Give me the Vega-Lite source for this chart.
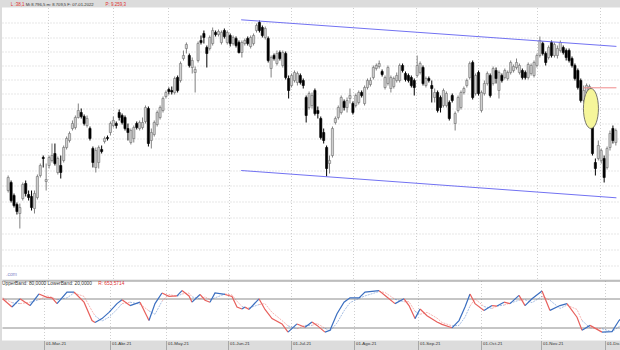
{
"$schema":"https://vega.github.io/schema/vega-lite/v6.json",
"padding":{"top":1.5,"left":0,"right":0,"bottom":1},
"spacing":1,
"config":{"background":"#dcdcdc","view":{"fill":"white","stroke":null},"font":"Liberation Sans"},
"datasets":{
"candles":[
{"i":0,"o":8100,"h":8250,"l":8080,"c":8230},{"i":1,"o":8180,"h":8200,"l":7980,"c":8000},{"i":2,"o":8050,"h":8070,"l":7930,"c":7950},{"i":3,"o":7960,"h":7980,"l":7860,"c":7890},{"i":4,"o":7870,"h":7970,"l":7720,"c":7930},{"i":5,"o":8020,"h":8180,"l":8000,"c":8160},{"i":6,"o":8170,"h":8200,"l":8040,"c":8070},{"i":7,"o":8060,"h":8100,"l":8000,"c":8030},{"i":8,"o":8040,"h":8100,"l":7900,"c":7930},{"i":9,"o":7920,"h":8100,"l":7870,"c":8070},
{"i":10,"o":8030,"h":8260,"l":8010,"c":8240},{"i":11,"o":8250,"h":8370,"l":8230,"c":8350},{"i":12,"o":8430,"h":8450,"l":8330,"c":8420},{"i":13,"o":8190,"h":8370,"l":8100,"c":8210},{"i":14,"o":8350,"h":8450,"l":8320,"c":8430},{"i":15,"o":8400,"h":8570,"l":8380,"c":8450},{"i":16,"o":8470,"h":8570,"l":8350,"c":8370},{"i":17,"o":8280,"h":8440,"l":8260,"c":8420},{"i":18,"o":8350,"h":8450,"l":8220,"c":8280},{"i":19,"o":8400,"h":8550,"l":8380,"c":8530},
{"i":20,"o":8530,"h":8640,"l":8510,"c":8620},{"i":21,"o":8600,"h":8690,"l":8580,"c":8670},{"i":22,"o":8720,"h":8800,"l":8700,"c":8770},{"i":23,"o":8730,"h":8850,"l":8710,"c":8830},{"i":24,"o":8830,"h":8970,"l":8820,"c":8900},{"i":25,"o":8880,"h":8920,"l":8820,"c":8840},{"i":26,"o":8840,"h":8860,"l":8750,"c":8770},{"i":27,"o":8750,"h":8850,"l":8730,"c":8820},{"i":28,"o":8720,"h":8740,"l":8600,"c":8620},{"i":29,"o":8520,"h":8540,"l":8330,"c":8380},
{"i":30,"o":8330,"h":8530,"l":8280,"c":8500},{"i":31,"o":8380,"h":8550,"l":8320,"c":8530},{"i":32,"o":8510,"h":8550,"l":8470,"c":8490},{"i":33,"o":8590,"h":8640,"l":8570,"c":8620},{"i":34,"o":8630,"h":8650,"l":8600,"c":8620},{"i":35,"o":8680,"h":8790,"l":8650,"c":8770},{"i":36,"o":8750,"h":8840,"l":8730,"c":8800},{"i":37,"o":8770,"h":8790,"l":8720,"c":8750},{"i":38,"o":8880,"h":8910,"l":8800,"c":8830},{"i":39,"o":8850,"h":8870,"l":8760,"c":8780},
{"i":40,"o":8830,"h":8850,"l":8700,"c":8720},{"i":41,"o":8720,"h":8770,"l":8600,"c":8680},{"i":42,"o":8580,"h":8720,"l":8560,"c":8700},{"i":43,"o":8620,"h":8750,"l":8580,"c":8730},{"i":44,"o":8770,"h":8790,"l":8710,"c":8730},{"i":45,"o":8720,"h":8800,"l":8700,"c":8780},{"i":46,"o":8730,"h":8830,"l":8710,"c":8780},{"i":47,"o":8790,"h":8950,"l":8770,"c":8930},{"i":48,"o":8920,"h":8940,"l":8540,"c":8570},{"i":49,"o":8600,"h":8720,"l":8520,"c":8680},
{"i":50,"o":8660,"h":8800,"l":8640,"c":8780},{"i":51,"o":8760,"h":8900,"l":8740,"c":8880},{"i":52,"o":8830,"h":8950,"l":8810,"c":8930},{"i":53,"o":8900,"h":9040,"l":8880,"c":9020},{"i":54,"o":9040,"h":9100,"l":9020,"c":9080},{"i":55,"o":9110,"h":9130,"l":9060,"c":9090},{"i":56,"o":9100,"h":9140,"l":9060,"c":9085},{"i":57,"o":9080,"h":9240,"l":9060,"c":9220},{"i":58,"o":9230,"h":9250,"l":9080,"c":9100},{"i":59,"o":9200,"h":9390,"l":9180,"c":9370},
{"i":60,"o":9420,"h":9500,"l":9400,"c":9450},{"i":61,"o":9520,"h":9580,"l":9470,"c":9560},{"i":62,"o":9450,"h":9470,"l":9330,"c":9350},{"i":63,"o":9330,"h":9430,"l":9270,"c":9400},{"i":64,"o":9280,"h":9340,"l":9080,"c":9310},{"i":65,"o":9400,"h":9590,"l":9380,"c":9570},{"i":66,"o":9600,"h":9650,"l":9560,"c":9580},{"i":67,"o":9670,"h":9700,"l":9570,"c":9630},{"i":68,"o":9530,"h":9550,"l":9330,"c":9470},{"i":69,"o":9520,"h":9650,"l":9500,"c":9630},
{"i":70,"o":9570,"h":9730,"l":9550,"c":9700},{"i":71,"o":9680,"h":9700,"l":9640,"c":9660},{"i":72,"o":9660,"h":9710,"l":9640,"c":9690},{"i":73,"o":9580,"h":9700,"l":9560,"c":9680},{"i":74,"o":9700,"h":9720,"l":9620,"c":9640},{"i":75,"o":9580,"h":9700,"l":9560,"c":9680},{"i":76,"o":9650,"h":9670,"l":9540,"c":9570},{"i":77,"o":9570,"h":9650,"l":9550,"c":9630},{"i":78,"o":9620,"h":9640,"l":9530,"c":9550},{"i":79,"o":9580,"h":9600,"l":9470,"c":9480},
{"i":80,"o":9480,"h":9600,"l":9430,"c":9580},{"i":81,"o":9570,"h":9620,"l":9550,"c":9600},{"i":82,"o":9620,"h":9640,"l":9550,"c":9570},{"i":83,"o":9540,"h":9650,"l":9520,"c":9630},{"i":84,"o":9570,"h":9670,"l":9550,"c":9650},{"i":85,"o":9700,"h":9770,"l":9680,"c":9750},{"i":86,"o":9780,"h":9800,"l":9680,"c":9700},{"i":87,"o":9730,"h":9750,"l":9630,"c":9650},{"i":88,"o":9630,"h":9740,"l":9610,"c":9720},{"i":89,"o":9620,"h":9640,"l":9380,"c":9400},
{"i":90,"o":9320,"h":9450,"l":9230,"c":9430},{"i":91,"o":9450,"h":9470,"l":9400,"c":9420},{"i":92,"o":9370,"h":9500,"l":9350,"c":9470},{"i":93,"o":9480,"h":9500,"l":9400,"c":9420},{"i":94,"o":9350,"h":9500,"l":9330,"c":9480},{"i":95,"o":9470,"h":9490,"l":9210,"c":9230},{"i":96,"o":9220,"h":9250,"l":9020,"c":9100},{"i":97,"o":9150,"h":9270,"l":9130,"c":9250},{"i":98,"o":9200,"h":9300,"l":9180,"c":9280},{"i":99,"o":9180,"h":9290,"l":9150,"c":9270},
{"i":100,"o":9250,"h":9270,"l":9160,"c":9180},{"i":101,"o":9200,"h":9220,"l":9120,"c":9150},{"i":102,"o":9030,"h":9050,"l":8780,"c":8850},{"i":103,"o":8930,"h":9090,"l":8910,"c":9070},{"i":104,"o":8950,"h":9080,"l":8920,"c":9050},{"i":105,"o":9100,"h":9120,"l":8850,"c":8870},{"i":106,"o":8900,"h":8940,"l":8820,"c":8870},{"i":107,"o":8820,"h":8840,"l":8610,"c":8630},{"i":108,"o":8680,"h":8720,"l":8570,"c":8600},{"i":109,"o":8530,"h":8550,"l":8240,"c":8320},
{"i":110,"o":8370,"h":8450,"l":8270,"c":8400},{"i":111,"o":8450,"h":8740,"l":8430,"c":8720},{"i":112,"o":8780,"h":8840,"l":8760,"c":8820},{"i":113,"o":8830,"h":8950,"l":8810,"c":8930},{"i":114,"o":8880,"h":9050,"l":8860,"c":9030},{"i":115,"o":8990,"h":9010,"l":8900,"c":8930},{"i":116,"o":8930,"h":9030,"l":8880,"c":9000},{"i":117,"o":9020,"h":9120,"l":8970,"c":9050},{"i":118,"o":8970,"h":8990,"l":8860,"c":8880},{"i":119,"o":8950,"h":9070,"l":8930,"c":9050},
{"i":120,"o":8980,"h":9100,"l":8960,"c":9080},{"i":121,"o":9080,"h":9100,"l":9030,"c":9050},{"i":122,"o":8970,"h":9150,"l":8950,"c":9130},{"i":123,"o":9130,"h":9220,"l":9110,"c":9200},{"i":124,"o":9160,"h":9230,"l":9140,"c":9200},{"i":125,"o":9230,"h":9350,"l":9210,"c":9330},{"i":126,"o":9320,"h":9370,"l":9300,"c":9350},{"i":127,"o":9340,"h":9400,"l":9320,"c":9370},{"i":128,"o":9290,"h":9310,"l":9240,"c":9260},{"i":129,"o":9130,"h":9250,"l":9110,"c":9230},
{"i":130,"o":9170,"h":9350,"l":9150,"c":9330},{"i":131,"o":9120,"h":9250,"l":9080,"c":9230},{"i":132,"o":9140,"h":9240,"l":9120,"c":9220},{"i":133,"o":9200,"h":9280,"l":9180,"c":9250},{"i":134,"o":9200,"h":9370,"l":9180,"c":9350},{"i":135,"o":9350,"h":9370,"l":9280,"c":9300},{"i":136,"o":9270,"h":9290,"l":9190,"c":9210},{"i":137,"o":9250,"h":9270,"l":9180,"c":9200},{"i":138,"o":9230,"h":9250,"l":9130,"c":9150},{"i":139,"o":9200,"h":9220,"l":9050,"c":9130},
{"i":140,"o":9250,"h":9450,"l":9230,"c":9350},{"i":141,"o":9280,"h":9390,"l":9260,"c":9370},{"i":142,"o":9330,"h":9350,"l":9150,"c":9170},{"i":143,"o":9150,"h":9240,"l":9130,"c":9220},{"i":144,"o":9220,"h":9240,"l":9180,"c":9200},{"i":145,"o":9150,"h":9200,"l":8980,"c":9120},{"i":146,"o":9030,"h":9120,"l":8980,"c":9080},{"i":147,"o":9080,"h":9100,"l":8880,"c":8900},{"i":148,"o":9030,"h":9050,"l":8880,"c":8930},{"i":149,"o":8950,"h":9120,"l":8930,"c":9100},
{"i":150,"o":8950,"h":9090,"l":8930,"c":9070},{"i":151,"o":8980,"h":9000,"l":8800,"c":8820},{"i":152,"o":9050,"h":9070,"l":8980,"c":9000},{"i":153,"o":8770,"h":8890,"l":8700,"c":8870},{"i":154,"o":8900,"h":9050,"l":8880,"c":9030},{"i":155,"o":8930,"h":9100,"l":8910,"c":9080},{"i":156,"o":9080,"h":9140,"l":9060,"c":9120},{"i":157,"o":9150,"h":9220,"l":9130,"c":9200},{"i":158,"o":9230,"h":9390,"l":9210,"c":9370},{"i":159,"o":9380,"h":9400,"l":9010,"c":9030},
{"i":160,"o":9070,"h":9270,"l":9050,"c":9250},{"i":161,"o":9280,"h":9300,"l":9050,"c":9070},{"i":162,"o":8900,"h":9100,"l":8880,"c":9080},{"i":163,"o":9070,"h":9200,"l":9050,"c":9170},{"i":164,"o":9170,"h":9290,"l":9150,"c":9270},{"i":165,"o":9250,"h":9270,"l":9030,"c":9050},{"i":166,"o":9170,"h":9340,"l":9150,"c":9320},{"i":167,"o":9300,"h":9330,"l":9170,"c":9220},{"i":168,"o":9100,"h":9300,"l":9020,"c":9280},{"i":169,"o":9250,"h":9270,"l":9180,"c":9200},
{"i":170,"o":9230,"h":9320,"l":9210,"c":9300},{"i":171,"o":9220,"h":9300,"l":9200,"c":9280},{"i":172,"o":9280,"h":9400,"l":9260,"c":9380},{"i":173,"o":9300,"h":9360,"l":9280,"c":9340},{"i":174,"o":9330,"h":9420,"l":9310,"c":9380},{"i":175,"o":9280,"h":9370,"l":9260,"c":9350},{"i":176,"o":9300,"h":9320,"l":9210,"c":9230},{"i":177,"o":9280,"h":9300,"l":9210,"c":9230},{"i":178,"o":9230,"h":9380,"l":9210,"c":9360},{"i":179,"o":9270,"h":9370,"l":9250,"c":9350},
{"i":180,"o":9250,"h":9400,"l":9230,"c":9380},{"i":181,"o":9350,"h":9470,"l":9330,"c":9450},{"i":182,"o":9450,"h":9640,"l":9430,"c":9600},{"i":183,"o":9570,"h":9590,"l":9450,"c":9470},{"i":184,"o":9470,"h":9490,"l":9350,"c":9380},{"i":185,"o":9430,"h":9550,"l":9410,"c":9530},{"i":186,"o":9580,"h":9600,"l":9430,"c":9450},{"i":187,"o":9450,"h":9580,"l":9430,"c":9560},{"i":188,"o":9450,"h":9550,"l":9420,"c":9520},{"i":189,"o":9500,"h":9600,"l":9480,"c":9580},
{"i":190,"o":9530,"h":9550,"l":9460,"c":9480},{"i":191,"o":9500,"h":9520,"l":9400,"c":9430},{"i":192,"o":9500,"h":9520,"l":9380,"c":9400},{"i":193,"o":9420,"h":9440,"l":9330,"c":9350},{"i":194,"o":9350,"h":9370,"l":9200,"c":9220},{"i":195,"o":9300,"h":9320,"l":9110,"c":9130},{"i":196,"o":9200,"h":9220,"l":8980,"c":9000},{"i":197,"o":9000,"h":9150,"l":8980,"c":9100},{"i":198,"o":9080,"h":9170,"l":9060,"c":9150},{"i":199,"o":9080,"h":9160,"l":9000,"c":9140},
{"i":200,"o":8900,"h":9050,"l":8450,"c":8470},{"i":201,"o":8380,"h":8420,"l":8250,"c":8320},{"i":202,"o":8420,"h":8600,"l":8400,"c":8550},{"i":203,"o":8400,"h":8520,"l":8370,"c":8500},{"i":204,"o":8420,"h":8450,"l":8180,"c":8230},{"i":205,"o":8330,"h":8540,"l":8310,"c":8520},{"i":206,"o":8530,"h":8700,"l":8500,"c":8670},{"i":207,"o":8720,"h":8750,"l":8570,"c":8600},{"i":208,"o":8580,"h":8720,"l":8550,"c":8700}
],
"osc":[
{"i":-0.2,"k":80,"d":82,"r":1},{"i":2.97,"k":63,"d":72,"r":1},
{"i":2.97,"k":63,"d":72,"r":2},{"i":5.66,"k":80,"d":70,"r":2},
{"i":5.66,"k":80,"d":70,"r":3},{"i":9.03,"k":66,"d":73,"r":3},
{"i":9.03,"k":66,"d":73,"r":4},{"i":12.06,"k":90,"d":78,"r":4},
{"i":12.06,"k":90,"d":78,"r":5},{"i":14.76,"k":83,"d":86,"r":5},{"i":16.44,"k":82,"d":83,"r":5},{"i":18.12,"k":70,"d":78,"r":5},
{"i":18.12,"k":70,"d":78,"r":6},{"i":21.49,"k":94,"d":82,"r":6},{"i":23.85,"k":94,"d":92,"r":6},
{"i":23.85,"k":94,"d":92,"r":7},{"i":27.22,"k":73,"d":85,"r":7},{"i":29.91,"k":35,"d":55,"r":7},{"i":30.92,"k":31,"d":45,"r":7},
{"i":30.92,"k":31,"d":45,"r":8},{"i":33.28,"k":39,"d":34,"r":8},{"i":35.63,"k":52,"d":42,"r":8},{"i":38.33,"k":70,"d":58,"r":8},{"i":40.01,"k":78,"d":70,"r":8},
{"i":40.01,"k":78,"d":70,"r":9},{"i":42.71,"k":66,"d":73,"r":9},
{"i":42.71,"k":66,"d":73,"r":10},{"i":46.08,"k":73,"d":69,"r":10},
{"i":46.08,"k":73,"d":69,"r":11},{"i":49.1,"k":35,"d":55,"r":11},
{"i":49.1,"k":35,"d":55,"r":12},{"i":51.13,"k":70,"d":48,"r":12},{"i":53.48,"k":92,"d":75,"r":12},
{"i":53.48,"k":92,"d":75,"r":13},{"i":55.84,"k":85,"d":89,"r":13},{"i":58.54,"k":86,"d":85,"r":13},
{"i":58.54,"k":86,"d":85,"r":14},{"i":60.22,"k":97,"d":90,"r":14},
{"i":60.22,"k":97,"d":90,"r":15},{"i":62.58,"k":86,"d":92,"r":15},{"i":63.59,"k":73,"d":84,"r":15},
{"i":63.59,"k":73,"d":84,"r":16},{"i":66.28,"k":89,"d":80,"r":16},
{"i":66.28,"k":89,"d":80,"r":17},{"i":67.97,"k":77,"d":84,"r":17},{"i":69.65,"k":73,"d":78,"r":17},
{"i":69.65,"k":73,"d":78,"r":18},{"i":71.33,"k":92,"d":82,"r":18},{"i":74.7,"k":89,"d":90,"r":18},
{"i":74.7,"k":89,"d":90,"r":19},{"i":77.06,"k":85,"d":88,"r":19},{"i":78.74,"k":63,"d":75,"r":19},{"i":80.43,"k":59,"d":64,"r":19},
{"i":80.43,"k":59,"d":64,"r":20},{"i":81.44,"k":63,"d":61,"r":20},
{"i":81.44,"k":63,"d":61,"r":21},{"i":82.79,"k":58,"d":61,"r":21},
{"i":82.79,"k":58,"d":61,"r":22},{"i":86.15,"k":80,"d":68,"r":22},
{"i":86.15,"k":80,"d":68,"r":23},{"i":88.17,"k":58,"d":70,"r":23},{"i":90.53,"k":39,"d":52,"r":23},{"i":93.9,"k":28,"d":35,"r":23},{"i":95.92,"k":11,"d":24,"r":23},
{"i":95.92,"k":11,"d":24,"r":24},{"i":98.95,"k":28,"d":18,"r":24},
{"i":98.95,"k":28,"d":18,"r":25},{"i":101.64,"k":21,"d":25,"r":25},
{"i":101.64,"k":21,"d":25,"r":26},{"i":104,"k":32,"d":25,"r":26},
{"i":104,"k":32,"d":25,"r":27},{"i":105.69,"k":25,"d":29,"r":27},{"i":108.38,"k":11,"d":19,"r":27},
{"i":108.38,"k":11,"d":19,"r":28},{"i":110.06,"k":15,"d":13,"r":28},{"i":112.42,"k":49,"d":30,"r":28},{"i":114.78,"k":73,"d":55,"r":28},{"i":116.8,"k":82,"d":72,"r":28},{"i":119.83,"k":82,"d":81,"r":28},{"i":121.85,"k":94,"d":86,"r":28},{"i":126.57,"k":97,"d":95,"r":28},
{"i":126.57,"k":97,"d":95,"r":29},{"i":128.6,"k":87,"d":93,"r":29},{"i":131.96,"k":70,"d":79,"r":29},
{"i":131.96,"k":70,"d":79,"r":30},{"i":134.99,"k":80,"d":74,"r":30},
{"i":134.99,"k":80,"d":74,"r":31},{"i":136.67,"k":66,"d":74,"r":31},{"i":138.7,"k":39,"d":54,"r":31},
{"i":138.7,"k":39,"d":54,"r":32},{"i":140.39,"k":59,"d":48,"r":32},
{"i":140.39,"k":59,"d":48,"r":33},{"i":142.73,"k":45,"d":52,"r":33},{"i":146.1,"k":32,"d":40,"r":33},{"i":147.78,"k":27,"d":31,"r":33},{"i":151.15,"k":20,"d":24,"r":33},
{"i":151.15,"k":20,"d":24,"r":34},{"i":153.51,"k":35,"d":25,"r":34},{"i":155.53,"k":63,"d":42,"r":34},{"i":157.21,"k":90,"d":65,"r":34},
{"i":157.21,"k":90,"d":65,"r":35},{"i":158.9,"k":70,"d":80,"r":35},{"i":161.93,"k":56,"d":64,"r":35},
{"i":161.93,"k":56,"d":64,"r":36},{"i":164.62,"k":66,"d":60,"r":36},
{"i":164.62,"k":66,"d":60,"r":37},{"i":166.31,"k":65,"d":65,"r":37},
{"i":166.31,"k":65,"d":65,"r":38},{"i":168.66,"k":73,"d":67,"r":38},
{"i":168.66,"k":73,"d":67,"r":39},{"i":170.68,"k":70,"d":71,"r":39},
{"i":170.68,"k":70,"d":71,"r":40},{"i":173.72,"k":87,"d":77,"r":40},
{"i":173.72,"k":87,"d":77,"r":41},{"i":175.74,"k":66,"d":78,"r":41},
{"i":175.74,"k":66,"d":78,"r":42},{"i":178.09,"k":80,"d":72,"r":42},{"i":181.46,"k":96,"d":85,"r":42},
{"i":181.46,"k":96,"d":85,"r":43},{"i":184.15,"k":56,"d":77,"r":43},
{"i":184.15,"k":56,"d":77,"r":44},{"i":187.52,"k":66,"d":60,"r":44},{"i":189.88,"k":70,"d":67,"r":44},
{"i":189.88,"k":70,"d":67,"r":45},{"i":193.25,"k":42,"d":58,"r":45},{"i":194.93,"k":15,"d":35,"r":45},
{"i":194.93,"k":15,"d":35,"r":46},{"i":197.63,"k":25,"d":20,"r":46},
{"i":197.63,"k":25,"d":20,"r":47},{"i":201.67,"k":11,"d":18,"r":47},
{"i":201.67,"k":11,"d":18,"r":48},{"i":205.04,"k":12,"d":12,"r":48},{"i":207.39,"k":35,"d":22,"r":48},{"i":208.2,"k":40,"d":30,"r":48}
],
"chan":[{"i":79.75,"v":9807,"g":"u"},{"i":208.2,"v":9541,"g":"u"},{"i":79.75,"v":8300,"g":"l"},{"i":208.2,"v":8027,"g":"l"}],
"hl":[{"i":196.95,"v":9127},{"i":208.2,"v":9127}],
"ell":[{"i":199.48,"v":8920}],
"hdr1":[{"t":"L :38,1"}],
"hdr2":[{"t":"Mi 8.796,5 m: 8.709,5 F: 07-01-2022"}],
"hdr3":[{"t":"P: 9.259,3"}],
"wm":[{"t":".com"}],
"ob1":[{"t":"UpperBand: 80,0000  LowerBand: 20,0000"}],
"ob2":[{"t":"R: 653,5714"}]
},
"vconcat":[
{
"width":620,"height":272,
"layer":[
{"data":{"name":"candles"},"mark":{"type":"rule","strokeWidth":1},
 "encoding":{"x":{"field":"i","type":"quantitative","scale":{"domain":[-0.4,208.4],"nice":false},
   "axis":{"values":[13.75,35.97,54.83,75.71,96.93,118.15,139.7,160.92,181.13,202.68],"grid":true,"gridColor":"#cfcfcf","gridDash":[1,2],"labels":false,"ticks":false,"domain":false,"title":null}},
  "y":{"field":"h","type":"quantitative","scale":{"domain":[7210,9930],"nice":false,"zero":false},
   "axis":{"values":[9777,9633,9492,9350,9208,9067,8917,8767,8617,8462,8305,8150,7995,7835,7675,7515,7352],"grid":true,"gridColor":"#cfcfcf","gridDash":[1,2],"labels":false,"ticks":false,"domain":false,"title":null}},
  "y2":{"field":"l"},
  "color":{"condition":{"test":"datum.c >= datum.o","value":"#808080"},"value":"#000000"}}},
{"data":{"name":"candles"},"mark":{"type":"bar","size":2.2,"strokeWidth":0.6},
 "encoding":{"x":{"field":"i","type":"quantitative","scale":{"domain":[-0.4,208.4],"nice":false},
   "axis":{"values":[13.75,35.97,54.83,75.71,96.93,118.15,139.7,160.92,181.13,202.68],"grid":true,"gridColor":"#cfcfcf","gridDash":[1,2],"labels":false,"ticks":false,"domain":false,"title":null}},
  "y":{"field":"o","type":"quantitative","scale":{"domain":[7210,9930],"nice":false,"zero":false},
   "axis":{"values":[9777,9633,9492,9350,9208,9067,8917,8767,8617,8462,8305,8150,7995,7835,7675,7515,7352],"grid":true,"gridColor":"#cfcfcf","gridDash":[1,2],"labels":false,"ticks":false,"domain":false,"title":null}},
  "y2":{"field":"c"},
  "fill":{"condition":{"test":"datum.c >= datum.o","value":"#cfcfcf"},"value":"#000000"},
  "stroke":{"condition":{"test":"datum.c >= datum.o","value":"#707070"},"value":"#000000"}}},
{"data":{"name":"chan"},"mark":{"type":"line","color":"#7272f2","strokeWidth":1},
 "encoding":{"x":{"field":"i","type":"quantitative","scale":{"domain":[-0.4,208.4],"nice":false},
   "axis":{"values":[13.75,35.97,54.83,75.71,96.93,118.15,139.7,160.92,181.13,202.68],"grid":true,"gridColor":"#cfcfcf","gridDash":[1,2],"labels":false,"ticks":false,"domain":false,"title":null}},
  "y":{"field":"v","type":"quantitative","scale":{"domain":[7210,9930],"nice":false,"zero":false},
   "axis":{"values":[9777,9633,9492,9350,9208,9067,8917,8767,8617,8462,8305,8150,7995,7835,7675,7515,7352],"grid":true,"gridColor":"#cfcfcf","gridDash":[1,2],"labels":false,"ticks":false,"domain":false,"title":null}},
  "detail":{"field":"g","type":"nominal"}}},
{"data":{"name":"hl"},"mark":{"type":"line","color":"#f08a8a","strokeWidth":1},
 "encoding":{"x":{"field":"i","type":"quantitative","scale":{"domain":[-0.4,208.4],"nice":false},
   "axis":{"values":[13.75,35.97,54.83,75.71,96.93,118.15,139.7,160.92,181.13,202.68],"grid":true,"gridColor":"#cfcfcf","gridDash":[1,2],"labels":false,"ticks":false,"domain":false,"title":null}},
  "y":{"field":"v","type":"quantitative","scale":{"domain":[7210,9930],"nice":false,"zero":false},
   "axis":{"values":[9777,9633,9492,9350,9208,9067,8917,8767,8617,8462,8305,8150,7995,7835,7675,7515,7352],"grid":true,"gridColor":"#cfcfcf","gridDash":[1,2],"labels":false,"ticks":false,"domain":false,"title":null}}}},
{"data":{"name":"ell"},"mark":{"type":"point","shape":"M-0.375,0A0.375,1 0 1,0 0.375,0A0.375,1 0 1,0 -0.375,0Z","size":1600,"filled":true,"fill":"#f6f69a","stroke":"#555555","strokeWidth":0.8,"opacity":1},
 "encoding":{"x":{"field":"i","type":"quantitative","scale":{"domain":[-0.4,208.4],"nice":false},
   "axis":{"values":[13.75,35.97,54.83,75.71,96.93,118.15,139.7,160.92,181.13,202.68],"grid":true,"gridColor":"#cfcfcf","gridDash":[1,2],"labels":false,"ticks":false,"domain":false,"title":null}},
  "y":{"field":"v","type":"quantitative","scale":{"domain":[7210,9930],"nice":false,"zero":false},
   "axis":{"values":[9777,9633,9492,9350,9208,9067,8917,8767,8617,8462,8305,8150,7995,7835,7675,7515,7352],"grid":true,"gridColor":"#cfcfcf","gridDash":[1,2],"labels":false,"ticks":false,"domain":false,"title":null}}}},
{"data":{"name":"hdr1"},"mark":{"type":"text","align":"left","baseline":"middle","fontSize":4.5,"color":"#e03030","clip":false},
 "encoding":{"x":{"datum":0.9,"type":"quantitative","scale":{"domain":[-0.4,208.4],"nice":false},
   "axis":{"values":[13.75,35.97,54.83,75.71,96.93,118.15,139.7,160.92,181.13,202.68],"grid":true,"gridColor":"#cfcfcf","gridDash":[1,2],"labels":false,"ticks":false,"domain":false,"title":null}},
  "y":{"datum":9960,"type":"quantitative","scale":{"domain":[7210,9930],"nice":false,"zero":false},
   "axis":{"values":[9777,9633,9492,9350,9208,9067,8917,8767,8617,8462,8305,8150,7995,7835,7675,7515,7352],"grid":true,"gridColor":"#cfcfcf","gridDash":[1,2],"labels":false,"ticks":false,"domain":false,"title":null}},
  "text":{"field":"t"}}},
{"data":{"name":"hdr2"},"mark":{"type":"text","align":"left","baseline":"middle","fontSize":4.2,"color":"#333333","clip":false},
 "encoding":{"x":{"datum":6.0,"type":"quantitative","scale":{"domain":[-0.4,208.4],"nice":false},
   "axis":{"values":[13.75,35.97,54.83,75.71,96.93,118.15,139.7,160.92,181.13,202.68],"grid":true,"gridColor":"#cfcfcf","gridDash":[1,2],"labels":false,"ticks":false,"domain":false,"title":null}},
  "y":{"datum":9960,"type":"quantitative","scale":{"domain":[7210,9930],"nice":false,"zero":false},
   "axis":{"values":[9777,9633,9492,9350,9208,9067,8917,8767,8617,8462,8305,8150,7995,7835,7675,7515,7352],"grid":true,"gridColor":"#cfcfcf","gridDash":[1,2],"labels":false,"ticks":false,"domain":false,"title":null}},
  "text":{"field":"t"}}},
{"data":{"name":"hdr3"},"mark":{"type":"text","align":"left","baseline":"middle","fontSize":4.5,"color":"#e03030","clip":false},
 "encoding":{"x":{"datum":33.3,"type":"quantitative","scale":{"domain":[-0.4,208.4],"nice":false},
   "axis":{"values":[13.75,35.97,54.83,75.71,96.93,118.15,139.7,160.92,181.13,202.68],"grid":true,"gridColor":"#cfcfcf","gridDash":[1,2],"labels":false,"ticks":false,"domain":false,"title":null}},
  "y":{"datum":9960,"type":"quantitative","scale":{"domain":[7210,9930],"nice":false,"zero":false},
   "axis":{"values":[9777,9633,9492,9350,9208,9067,8917,8767,8617,8462,8305,8150,7995,7835,7675,7515,7352],"grid":true,"gridColor":"#cfcfcf","gridDash":[1,2],"labels":false,"ticks":false,"domain":false,"title":null}},
  "text":{"field":"t"}}},
{"data":{"name":"wm"},"mark":{"type":"text","align":"right","baseline":"middle","fontSize":5,"color":"#8585c8","clip":false},
 "encoding":{"x":{"datum":2.97,"type":"quantitative","scale":{"domain":[-0.4,208.4],"nice":false},
   "axis":{"values":[13.75,35.97,54.83,75.71,96.93,118.15,139.7,160.92,181.13,202.68],"grid":true,"gridColor":"#cfcfcf","gridDash":[1,2],"labels":false,"ticks":false,"domain":false,"title":null}},
  "y":{"datum":7270,"type":"quantitative","scale":{"domain":[7210,9930],"nice":false,"zero":false},
   "axis":{"values":[9777,9633,9492,9350,9208,9067,8917,8767,8617,8462,8305,8150,7995,7835,7675,7515,7352],"grid":true,"gridColor":"#cfcfcf","gridDash":[1,2],"labels":false,"ticks":false,"domain":false,"title":null}},
  "text":{"field":"t"}}}
]
},
{
"width":620,"height":60,
"layer":[
{"data":{"name":"osc"},"mark":{"type":"line","strokeWidth":0.9,"opacity":0.5,"strokeDash":[2,1]},
 "encoding":{"x":{"field":"i","type":"quantitative","scale":{"domain":[-0.4,208.4],"nice":false},
 "axis":{"values":[13.75,35.97,54.83,75.71,96.93,118.15,139.7,160.92,181.13,202.68],"grid":true,"gridColor":"#cfcfcf","gridDash":[1,2],"domain":false,"ticks":true,"tickSize":9,"tickColor":"#a8a8a8","labelAlign":"left","labelPadding":-8,"labelOffset":1.5,"labelFontSize":4.4,"labelColor":"#333333","labelOverlap":false,"labelFlush":false,"labelBound":false,"title":null,
 "labelExpr":"datum.value < 20 ? '01-Mar-21' : datum.value < 45 ? '01-Abr-21' : datum.value < 65 ? '01-May-21' : datum.value < 85 ? '01-Jun-21' : datum.value < 105 ? '01-Jul-21' : datum.value < 128 ? '01-Ago-21' : datum.value < 150 ? '01-Sep-21' : datum.value < 170 ? '01-Oct-21' : datum.value < 190 ? '01-Nov-21' : '01-Dic-'"}},
  "y":{"field":"d","type":"quantitative","scale":{"domain":[-6.3,117.9],"nice":false,"zero":false},
   "axis":{"values":[20,80,117.9],"grid":true,"gridColor":"#8c8c8c","labels":false,"ticks":false,"domain":false,"title":null}},
  "detail":{"field":"r","type":"nominal"},
  "color":{"condition":{"test":"datum.r % 2 == 1","value":"#e8605c"},"value":"#3a6ec0"}}},
{"data":{"name":"osc"},"mark":{"type":"line","strokeWidth":1.2},
 "encoding":{"x":{"field":"i","type":"quantitative","scale":{"domain":[-0.4,208.4],"nice":false},
 "axis":{"values":[13.75,35.97,54.83,75.71,96.93,118.15,139.7,160.92,181.13,202.68],"grid":true,"gridColor":"#cfcfcf","gridDash":[1,2],"domain":false,"ticks":true,"tickSize":9,"tickColor":"#a8a8a8","labelAlign":"left","labelPadding":-8,"labelOffset":1.5,"labelFontSize":4.4,"labelColor":"#333333","labelOverlap":false,"labelFlush":false,"labelBound":false,"title":null,
 "labelExpr":"datum.value < 20 ? '01-Mar-21' : datum.value < 45 ? '01-Abr-21' : datum.value < 65 ? '01-May-21' : datum.value < 85 ? '01-Jun-21' : datum.value < 105 ? '01-Jul-21' : datum.value < 128 ? '01-Ago-21' : datum.value < 150 ? '01-Sep-21' : datum.value < 170 ? '01-Oct-21' : datum.value < 190 ? '01-Nov-21' : '01-Dic-'"}},
  "y":{"field":"k","type":"quantitative","scale":{"domain":[-6.3,117.9],"nice":false,"zero":false},
   "axis":{"values":[20,80,117.9],"grid":true,"gridColor":"#8c8c8c","labels":false,"ticks":false,"domain":false,"title":null}},
  "detail":{"field":"r","type":"nominal"},
  "color":{"condition":{"test":"datum.r % 2 == 1","value":"#e8605c"},"value":"#3a6ec0"}}},
{"data":{"name":"ob1"},"mark":{"type":"text","align":"left","baseline":"middle","fontSize":4.8,"color":"#333333","clip":false},
 "encoding":{"x":{"datum":-0.4,"type":"quantitative","scale":{"domain":[-0.4,208.4],"nice":false},
 "axis":{"values":[13.75,35.97,54.83,75.71,96.93,118.15,139.7,160.92,181.13,202.68],"grid":true,"gridColor":"#cfcfcf","gridDash":[1,2],"domain":false,"ticks":true,"tickSize":9,"tickColor":"#a8a8a8","labelAlign":"left","labelPadding":-8,"labelOffset":1.5,"labelFontSize":4.4,"labelColor":"#333333","labelOverlap":false,"labelFlush":false,"labelBound":false,"title":null,
 "labelExpr":"datum.value < 20 ? '01-Mar-21' : datum.value < 45 ? '01-Abr-21' : datum.value < 65 ? '01-May-21' : datum.value < 85 ? '01-Jun-21' : datum.value < 105 ? '01-Jul-21' : datum.value < 128 ? '01-Ago-21' : datum.value < 150 ? '01-Sep-21' : datum.value < 170 ? '01-Oct-21' : datum.value < 190 ? '01-Nov-21' : '01-Dic-'"}},
  "y":{"datum":111,"type":"quantitative","scale":{"domain":[-6.3,117.9],"nice":false,"zero":false},
   "axis":{"values":[20,80,117.9],"grid":true,"gridColor":"#8c8c8c","labels":false,"ticks":false,"domain":false,"title":null}},
  "text":{"field":"t"}}},
{"data":{"name":"ob2"},"mark":{"type":"text","align":"left","baseline":"middle","fontSize":4.8,"color":"#e03030","clip":false},
 "encoding":{"x":{"datum":32,"type":"quantitative","scale":{"domain":[-0.4,208.4],"nice":false},
 "axis":{"values":[13.75,35.97,54.83,75.71,96.93,118.15,139.7,160.92,181.13,202.68],"grid":true,"gridColor":"#cfcfcf","gridDash":[1,2],"domain":false,"ticks":true,"tickSize":9,"tickColor":"#a8a8a8","labelAlign":"left","labelPadding":-8,"labelOffset":1.5,"labelFontSize":4.4,"labelColor":"#333333","labelOverlap":false,"labelFlush":false,"labelBound":false,"title":null,
 "labelExpr":"datum.value < 20 ? '01-Mar-21' : datum.value < 45 ? '01-Abr-21' : datum.value < 65 ? '01-May-21' : datum.value < 85 ? '01-Jun-21' : datum.value < 105 ? '01-Jul-21' : datum.value < 128 ? '01-Ago-21' : datum.value < 150 ? '01-Sep-21' : datum.value < 170 ? '01-Oct-21' : datum.value < 190 ? '01-Nov-21' : '01-Dic-'"}},
  "y":{"datum":111,"type":"quantitative","scale":{"domain":[-6.3,117.9],"nice":false,"zero":false},
   "axis":{"values":[20,80,117.9],"grid":true,"gridColor":"#8c8c8c","labels":false,"ticks":false,"domain":false,"title":null}},
  "text":{"field":"t"}}}
]
}
]
}
